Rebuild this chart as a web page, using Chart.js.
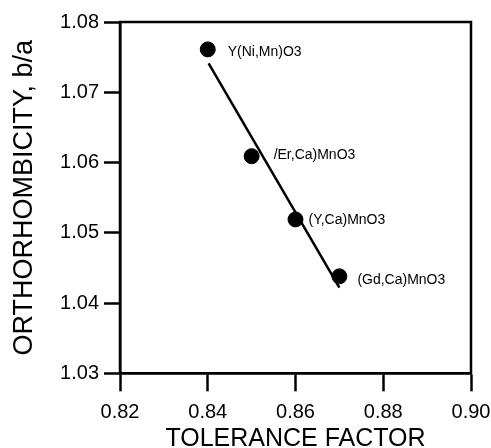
<!DOCTYPE html>
<html><head><meta charset="utf-8">
<script src="https://cdn.jsdelivr.net/npm/chart.js@4/dist/chart.umd.min.js"></script>
<style>html,body{margin:0;padding:0;background:#fff}#wrap{width:491px;height:448px}</style>
</head><body><div id="wrap"><canvas id="c" width="491" height="448"></canvas></div>
<script>
// ---- data ----
const compounds = ['Y(Ni,Mn)O3', '/Er,Ca)MnO3', '(Y,Ca)MnO3', '(Gd,Ca)MnO3'];
const toleranceFactor = [0.840, 0.850, 0.860, 0.870];
const orthorhombicity = [1.0761, 1.0609, 1.0519, 1.0438];
const fitX = [0.8402, 0.8700];
const fitY = [1.0741, 1.0422];
const xTicks = [0.82, 0.84, 0.86, 0.88, 0.90];
const yTicks = [1.03, 1.04, 1.05, 1.06, 1.07, 1.08];
// label placement (pixels relative to point)
const labelOffsets = [[20, 3], [22, -1.5], [13, 1], [18, 4]];

const FONT = "'Liberation Sans', Arial, Helvetica, sans-serif";

const frame = {
  id: 'frame',
  afterDraw(chart) {
    const {ctx, chartArea: a} = chart;
    ctx.save();
    ctx.strokeStyle = '#000';
    ctx.lineWidth = 2.5;
    ctx.strokeRect(a.left, a.top, a.right - a.left, a.bottom - a.top);
    ctx.restore();
  }
};
const pointLabels = {
  id: 'pointLabels',
  afterDatasetsDraw(chart) {
    const {ctx} = chart;
    const meta = chart.getDatasetMeta(0);
    ctx.save();
    ctx.fillStyle = '#000';
    ctx.font = '14px ' + FONT;
    ctx.textAlign = 'left';
    ctx.textBaseline = 'middle';
    meta.data.forEach((pt, i) => {
      const [dx, dy] = labelOffsets[i];
      ctx.fillText(compounds[i], pt.x + dx, pt.y + dy);
    });
    ctx.restore();
  }
};

new Chart(document.getElementById('c'), {
  type: 'scatter',
  data: {
    datasets: [
      {
        data: toleranceFactor.map((x, i) => ({x, y: orthorhombicity[i]})),
        backgroundColor: '#000', borderColor: '#000',
        pointRadius: 7.5, pointHoverRadius: 7.5, showLine: false
      },
      {
        data: fitX.map((x, i) => ({x, y: fitY[i]})),
        showLine: true, borderColor: '#000', borderWidth: 2.5,
        pointRadius: 0, pointHoverRadius: 0, fill: false
      }
    ]
  },
  options: {
    responsive: false, animation: false,
    layout: {padding: {top: 22, right: 20, left: 0, bottom: 0}},
    plugins: {legend: {display: false}, tooltip: {enabled: false}},
    scales: {
      x: {
        type: 'linear', min: 0.82, max: 0.90,
        afterBuildTicks: s => { s.ticks = xTicks.map(v => ({value: v})); },
        afterFit: s => { s.height = 74.7; s.paddingLeft = 0; s.paddingRight = 0; },
        grid: {drawOnChartArea: false, drawTicks: true, tickLength: 18, tickWidth: 2.5, tickColor: '#000'},
        border: {display: true, color: '#000', width: 2.5},
        ticks: {color: '#000', padding: 9, font: {family: FONT, size: 20}, callback: v => v.toFixed(2), maxRotation: 0},
        title: {display: true, text: 'TOLERANCE FACTOR', color: '#000', font: {family: FONT, size: 25, lineHeight: 0.68}, padding: 0}
      },
      y: {
        type: 'linear', min: 1.03, max: 1.08,
        afterBuildTicks: s => { s.ticks = yTicks.map(v => ({value: v})); },
        afterFit: s => { s.width = 120; s.paddingTop = 0; s.paddingBottom = 0; },
        grid: {drawOnChartArea: false, drawTicks: true, tickLength: 16, tickWidth: 2.5, tickColor: '#000'},
        border: {display: true, color: '#000', width: 2.5},
        ticks: {color: '#000', padding: 5, font: {family: FONT, size: 20}, callback: v => v.toFixed(2)},
        title: {display: true, text: 'ORTHORHOMBICITY, b/a', color: '#000', font: {family: FONT, size: 27, lineHeight: 1}, padding: {top: 11, bottom: 0}}
      }
    }
  },
  plugins: [frame, pointLabels]
});
</script></body></html>
